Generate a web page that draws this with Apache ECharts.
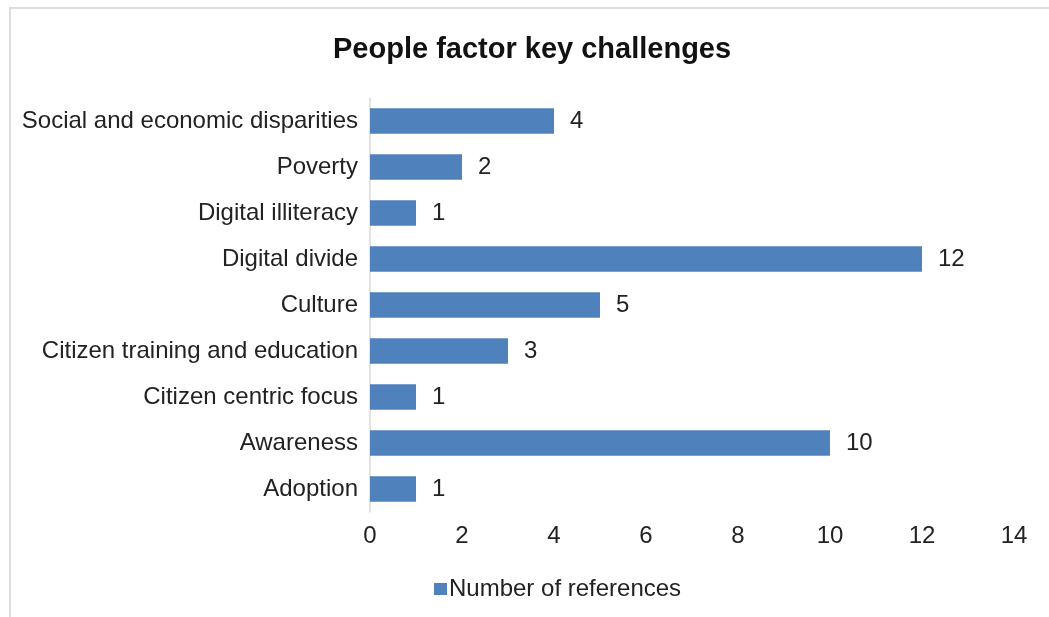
<!DOCTYPE html>
<html>
<head>
<meta charset="utf-8">
<script src="https://cdn.jsdelivr.net/npm/echarts@6/dist/echarts.min.js"></script>
<style>
  html, body { margin: 0; padding: 0; background: #fff; }
  #frame { position: absolute; left: 9px; top: 7px; width: 1060px; height: 640px;
           border-left: 2px solid #dcdcdc; border-top: 2px solid #dcdcdc; }
  #chart { width: 1049px; height: 617px; position: absolute; left: 0; top: 0; }
</style>
</head>
<body>
<div id="frame"></div>
<div id="chart"></div>
<script>
// Categories listed bottom-to-top (ECharts category axis starts at the bottom)
const categories = [
  'Adoption',
  'Awareness',
  'Citizen centric focus',
  'Citizen training and education',
  'Culture',
  'Digital divide',
  'Digital illiteracy',
  'Poverty',
  'Social and economic disparities'
];
const references = [1, 10, 1, 3, 5, 12, 1, 2, 4];
const xTicks = { min: 0, max: 14, interval: 2 };

const font = '"Liberation Sans", Arial, sans-serif';
const chart = echarts.init(document.getElementById('chart'), null, { renderer: 'canvas' });
chart.setOption({
  animation: false,
  backgroundColor: 'transparent',
  title: {
    text: 'People factor key challenges',
    left: 328, top: 30,
    textStyle: { fontFamily: font, fontSize: 29, fontWeight: 'bold', color: '#111' }
  },
  legend: {
    data: ['Number of references'],
    left: 429, top: 572,
    icon: 'rect', itemWidth: 13, itemHeight: 12, itemGap: 4,
    textStyle: { fontFamily: font, fontSize: 24, color: '#222', padding: [0, 0, 0, -3] }
  },
  grid: { left: 370, right: 35, top: 98, bottom: 105, containLabel: false },
  xAxis: {
    type: 'value',
    min: xTicks.min, max: xTicks.max, interval: xTicks.interval,
    axisLine: { show: false }, axisTick: { show: false }, splitLine: { show: false },
    axisLabel: { fontFamily: font, fontSize: 24, color: '#222', margin: 12 }
  },
  yAxis: {
    type: 'category',
    data: categories,
    axisLine: { show: true, lineStyle: { color: '#d9d9d9', width: 1.5 } },
    axisTick: { show: false },
    axisLabel: { fontFamily: font, fontSize: 24, color: '#222', margin: 12 }
  },
  series: [{
    name: 'Number of references',
    type: 'bar',
    data: references,
    barCategoryGap: '45%',
    itemStyle: { color: '#4f81bd' },
    label: { show: true, position: 'right', distance: 16, fontFamily: font, fontSize: 24, color: '#222' }
  }]
});
</script>
</body>
</html>
